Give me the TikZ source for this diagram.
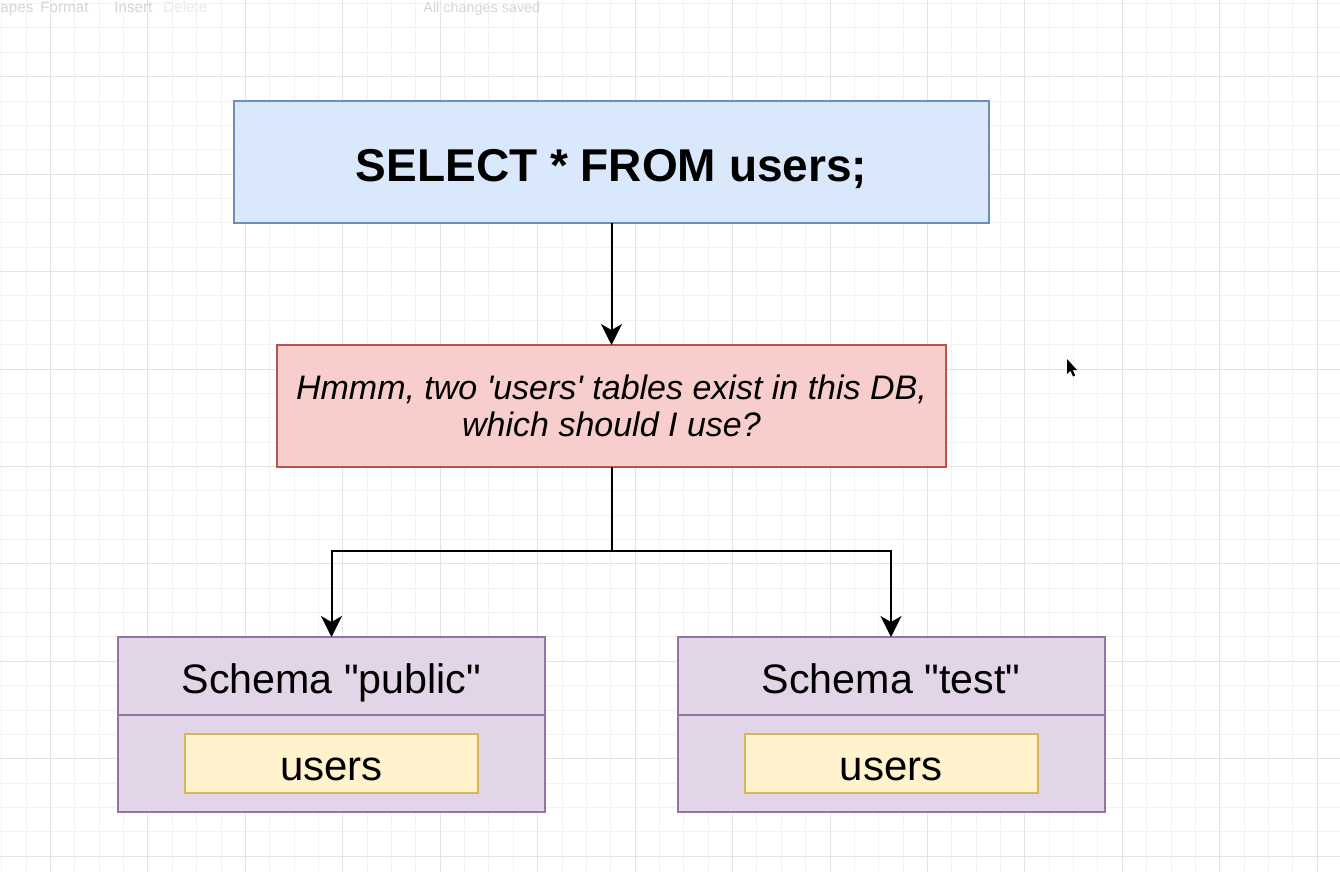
\documentclass[tikz,border=0pt]{standalone}
\usepackage{fontspec}
\setmainfont{Liberation Sans}[Ligatures=TeXOff]
\usetikzlibrary{positioning,arrows.meta}
\definecolor{queryfill}{HTML}{DAE8FC}
\definecolor{queryline}{HTML}{6C8EBF}
\definecolor{doubtfill}{HTML}{F8CECC}
\definecolor{doubtline}{HTML}{B85450}
\definecolor{schemafill}{HTML}{E1D5E7}
\definecolor{schemaline}{HTML}{9673A6}
\definecolor{tablefill}{HTML}{FFF2CC}
\definecolor{tableline}{HTML}{D6B656}
\definecolor{gridminor}{HTML}{F2F2F2}
\definecolor{gridmajor}{HTML}{E3E3E3}
\begin{document}
\begin{tikzpicture}[x=0.5pt, y=-0.5pt, node distance=61pt,
    >={Stealth[length=10.5pt, width=10.5pt, inset=3pt]},
    box/.style={draw, line width=1pt, inner sep=0pt, outer sep=0pt, align=center},
    query/.style={box, draw=queryline, fill=queryfill, minimum width=377.5pt, minimum height=61pt, text height=20pt, text depth=0pt, font=\fontsize{23}{27}\selectfont\bfseries},
    doubt/.style={box, draw=doubtline, fill=doubtfill, minimum width=334.5pt, minimum height=61pt, font=\fontsize{17}{18.8}\selectfont\itshape},
    schemahead/.style={box, draw=schemaline, fill=schemafill, minimum width=213.5pt, minimum height=39pt, text height=17pt, text depth=0pt, font=\fontsize{20.6}{24}\selectfont},
    schemabody/.style={box, draw=schemaline, fill=schemafill, minimum width=213.5pt, minimum height=48.5pt},
    tablebox/.style={box, draw=tableline, fill=tablefill, minimum width=146.5pt, minimum height=29.5pt, text height=16.5pt, text depth=0pt, font=\fontsize{21}{24}\selectfont},
    toolbar/.style={anchor=base west, inner sep=0pt, text=black!16, font=\fontsize{7.6}{9}\selectfont},
    link/.style={line width=1pt, black}]
    \useasboundingbox (0,0) rectangle (1340,872);
    \clip (0,0) rectangle (1340,872);
    \fill[white] (0,0) rectangle (1340,872);
    % grid of the canvas
    \foreach \i in {0,...,54} \draw[gridminor, line width=0.5pt] ({1.78+24.36*\i},0) -- ({1.78+24.36*\i},872);
    \foreach \j in {0,...,35} \draw[gridminor, line width=0.5pt] (0,{3.6+24.36*\j}) -- (1340,{3.6+24.36*\j});
    \foreach \i in {0,...,13} \draw[gridmajor, line width=0.5pt] ({50.5+97.44*\i},0) -- ({50.5+97.44*\i},872);
    \foreach \j in {0,...,8} \draw[gridmajor, line width=0.5pt] (0,{76.7+97.44*\j}) -- (1340,{76.7+97.44*\j});
    % faint toolbar
    \node[toolbar] (tbshapes) at (0,13) {apes};
    \node[toolbar] (tbformat) at (40,13) {Format};
    \node[toolbar] (tbinsert) at (114,13) {Insert};
    \node[toolbar, text=black!8] (tbdelete) at (163,13) {Delete};
    \node[toolbar, font=\fontsize{7.2}{9}\selectfont] (tbsaved) at (423,13) {All changes saved};

    \node[query] (select) at (611.5,162) {SELECT * FROM users;};
    \node[doubt] (which) [below=of select] {Hmmm, two 'users' tables exist in this DB,\\which should I use?};

    \node[schemahead] (publichead) at (331.5,676) {Schema "public"};
    \node[schemabody] (publicbody) [below=0pt of publichead] {};
    \node[tablebox] (publicusers) at (publicbody) {users};
    \node[schemahead] (testhead) at (891,676) {Schema "test"};
    \node[schemabody] (testbody) [below=0pt of testhead] {};
    \node[tablebox] (testusers) at (testbody) {users};

    \coordinate (split) at (611.5,551);
    \draw[link, ->] (select) -- (which);
    \draw[link] (which) -- (split);
    \draw[link, ->] (split) -| (publichead);
    \draw[link, ->] (split) -| (testhead);

    % mouse pointer
    \fill[black] (1067,359) -- (1067,374) -- (1070.5,370.8) -- (1073,376.5) -- (1075.2,375.5) -- (1072.7,370) -- (1077,370) -- cycle;
\end{tikzpicture}
\end{document}
